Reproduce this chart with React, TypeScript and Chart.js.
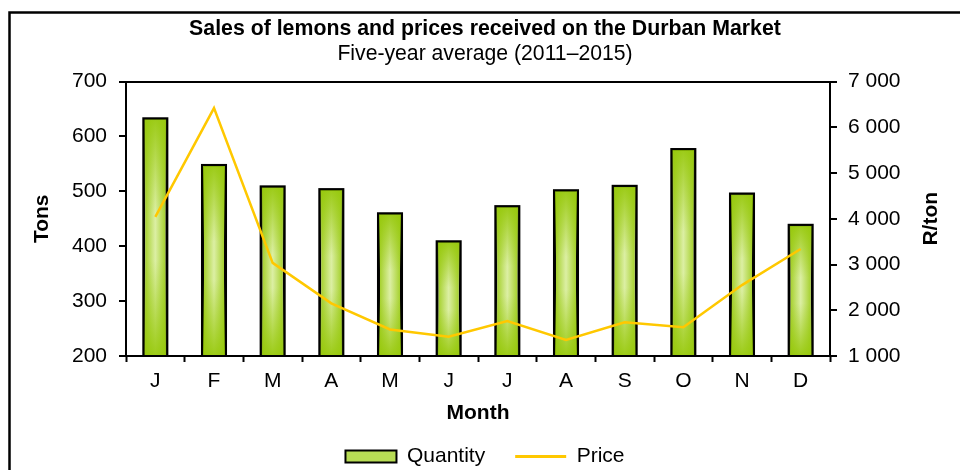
import React, { useEffect, useRef } from "react";
import { Chart, registerables } from "chart.js";

Chart.register(...registerables);

const months = ["J", "F", "M", "A", "M", "J", "J", "A", "S", "O", "N", "D"];
const quantity = [633, 548, 509, 504, 460, 409, 473, 502, 510, 577, 496, 439];
const price = [4040, 6420, 3035, 2150, 1580, 1420, 1765, 1350, 1735, 1630, 2550, 3340];
const titleText = "Sales of lemons and prices received on the Durban Market";
const subtitleText = "Five-year average (2011–2015)";
const xTitle = "Month";
const yTitle = "Tons";
const y2Title = "R/ton";

const FONT = "'Liberation Sans', Arial, sans-serif";

const fmtSpace = (v: number) => String(v).replace(/\B(?=(\d{3})+(?!\d))/g, " ");

const frame = {
  id: "frame",
  beforeDraw(chart: any) {
    const ctx = chart.ctx;
    ctx.save();
    ctx.fillStyle = "#fff";
    ctx.fillRect(0, 0, chart.width, chart.height);
    ctx.strokeStyle = "#000";
    ctx.lineWidth = 2.5;
    ctx.beginPath();
    ctx.moveTo(9.5, chart.height + 5);
    ctx.lineTo(9.5, 12.5);
    ctx.lineTo(chart.width + 5, 12.5);
    ctx.stroke();
    ctx.restore();
  },
  afterDraw(chart: any) {
    const ctx = chart.ctx;
    const a = chart.chartArea;
    ctx.save();
    ctx.font = `bold 21px ${FONT}`;
    ctx.fillStyle = "#000";
    ctx.textAlign = "center";
    ctx.textBaseline = "middle";
    ctx.translate(931, (a.top + a.bottom) / 2);
    ctx.rotate(-Math.PI / 2);
    ctx.fillText(y2Title, 0, 0);
    ctx.restore();
  },
};

const barShade = {
  id: "barShade",
  afterDatasetDraw(chart: any, args: any) {
    if (args.index !== 0) return;
    const ctx = chart.ctx;
    const area = chart.chartArea;
    ctx.save();
    args.meta.data.forEach((el: any) => {
      const { x, y, base, width } = el.getProps(["x", "y", "base", "width"], true);
      const bottom = Math.min(base, area.bottom);
      const l = x - width / 2 + 1;
      const r = x + width / 2 - 1;
      const t = y + 1;
      const b = bottom - 1;
      const gv = ctx.createLinearGradient(0, t, 0, b);
      gv.addColorStop(0, "rgba(150,200,10,0.9)");
      gv.addColorStop(0.4, "rgba(150,200,10,0)");
      gv.addColorStop(0.6, "rgba(150,200,10,0)");
      gv.addColorStop(1, "rgba(150,200,10,0.9)");
      ctx.fillStyle = gv;
      ctx.fillRect(l, t, r - l, b - t);
      ctx.strokeStyle = "#000";
      ctx.lineWidth = 2;
      ctx.strokeRect(x - width / 2, y, width, bottom - y);
    });
    ctx.restore();
  },
};

export default function App() {
  const ref = useRef<HTMLCanvasElement>(null);
  useEffect(() => {
    Chart.defaults.font.family = FONT;
    Chart.defaults.font.size = 21;
    Chart.defaults.color = "#000";
    const chart = new Chart(ref.current!, {
      type: "bar",
      data: {
        labels: months,
        datasets: [
          {
            type: "bar",
            label: "Quantity",
            data: quantity,
            yAxisID: "y",
            order: 2,
            borderColor: "#000",
            borderWidth: 2,
            barPercentage: 0.41,
            categoryPercentage: 1,
            backgroundColor: (c: any) => {
              const ch = c.chart;
              const xs = ch.scales?.x;
              if (!xs || c.dataIndex === undefined) return "#b5d94a";
              const cx = xs.getPixelForValue(c.dataIndex);
              const w = (xs.width / months.length) * 0.41;
              const g = ch.ctx.createLinearGradient(cx - w / 2, 0, cx + w / 2, 0);
              g.addColorStop(0, "#9ccb18");
              g.addColorStop(0.5, "#dcefa4");
              g.addColorStop(1, "#9ccb18");
              return g;
            },
          },
          {
            type: "line",
            label: "Price",
            data: price,
            yAxisID: "y2",
            order: 1,
            borderColor: "#ffc800",
            backgroundColor: "#ffc800",
            borderWidth: 2.5,
            pointRadius: 0,
            tension: 0,
          },
        ],
      },
      options: {
        animation: false,
        responsive: false,
        layout: { padding: { left: 10, right: 0, top: 0, bottom: -7 } },
        plugins: {
          title: {
            display: true,
            text: titleText,
            font: { size: 21.3, weight: "bold" },
            color: "#000",
            padding: { top: 16, bottom: 0 },
          },
          subtitle: {
            display: true,
            text: subtitleText,
            font: { size: 21.2 },
            color: "#000",
            padding: { top: 0, bottom: 14.5 },
          },
          legend: {
            position: "bottom",
            labels: {
              usePointStyle: true,
              pointStyleWidth: 51,
              boxHeight: 12,
              padding: 30,
              font: { size: 21 },
              color: "#000",
              generateLabels: () => [
                {
                  text: "Quantity",
                  fillStyle: "#b8dc55",
                  strokeStyle: "#000",
                  lineWidth: 2,
                  pointStyle: "rect",
                  datasetIndex: 0,
                  hidden: false,
                } as any,
                {
                  text: "Price",
                  fillStyle: "#ffc800",
                  strokeStyle: "#ffc800",
                  lineWidth: 3,
                  pointStyle: "line",
                  datasetIndex: 1,
                  hidden: false,
                } as any,
              ],
            },
          },
          tooltip: { enabled: false },
        },
        scales: {
          x: {
            grid: {
              offset: true,
              drawOnChartArea: false,
              tickLength: 6,
              tickColor: "#000",
              tickWidth: 2,
            },
            border: { color: "#000", width: 2 },
            ticks: { padding: 7, font: { size: 21 }, color: "#000" },
            title: {
              display: true,
              text: xTitle,
              font: { size: 21, weight: "bold" },
              color: "#000",
              padding: { top: 0, bottom: -10 },
            },
            afterFit: (s: any) => {
              s.height = 60;
            },
          },
          y: {
            position: "left",
            min: 200,
            max: 700,
            ticks: { stepSize: 100, padding: 12, font: { size: 21 }, color: "#000" },
            grid: {
              drawOnChartArea: true,
              color: (c: any) => (c.tick && c.tick.value === 700 ? "#000" : "rgba(0,0,0,0)"),
              tickColor: "#000",
              tickLength: 7,
              lineWidth: 2,
            },
            border: { color: "#000", width: 2 },
            title: {
              display: true,
              text: yTitle,
              font: { size: 21, weight: "bold" },
              color: "#000",
              padding: { top: 20, bottom: 0 },
            },
            afterFit: (s: any) => {
              s.width = 116;
            },
          },
          y2: {
            position: "right",
            min: 1000,
            max: 7000,
            ticks: {
              stepSize: 1000,
              padding: 11,
              font: { size: 21 },
              color: "#000",
              callback: (v: any) => fmtSpace(Number(v)),
            },
            grid: {
              drawOnChartArea: false,
              tickColor: "#000",
              tickLength: 7,
              lineWidth: 2,
            },
            border: { color: "#000", width: 2 },
            afterFit: (s: any) => {
              s.width = 130;
            },
          },
        },
      } as any,
      plugins: [frame, barShade],
    });
    return () => chart.destroy();
  }, []);
  return (
    <div style={{ position: "absolute", left: 0, top: 0, width: 960, height: 470, overflow: "hidden" }}>
      <canvas ref={ref} width={960} height={470} style={{ display: "block" }} />
    </div>
  );
}
